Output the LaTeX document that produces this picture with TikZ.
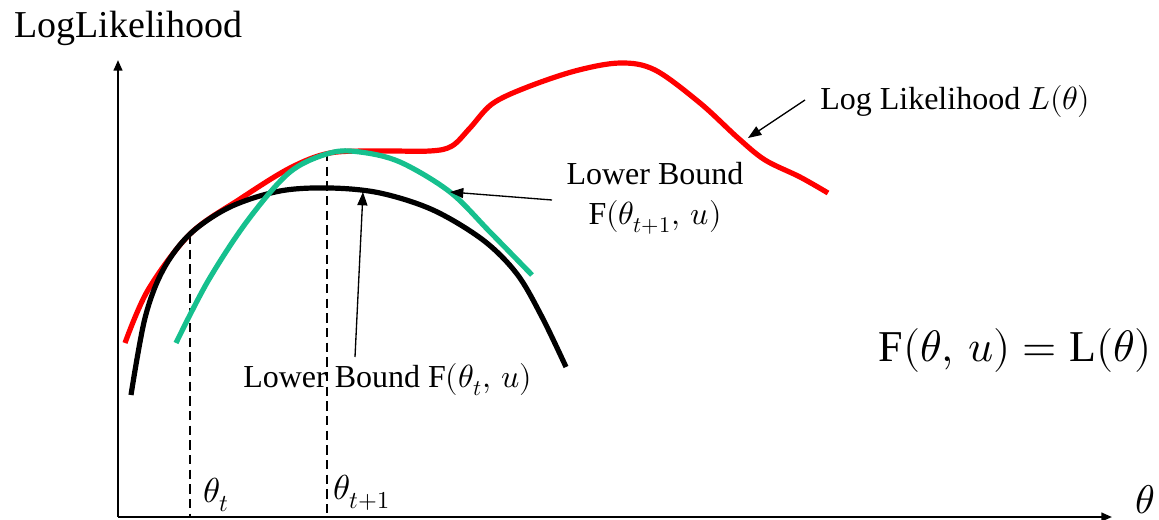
\documentclass[tikz,border=0pt]{standalone}
\usepackage{fontspec}
\usepackage{unicode-math}
\setmainfont{Liberation Serif}
\setmathfont{Latin Modern Math}
\usetikzlibrary{arrows.meta}
\definecolor{llred}{RGB}{255,0,0}
\definecolor{lbgreen}{RGB}{22,192,142}
\begin{document}
\begin{tikzpicture}[x=0.75pt,y=-0.75pt,
  axis/.style={line width=1.6pt,-{Triangle[length=8pt,width=6.5pt]}},
  curve/.style={line width=3.9pt},
  pointer/.style={line width=1pt,-{Triangle[length=10pt,width=7.5pt]}},
  guide/.style={line width=1.1pt,dash pattern=on 7pt off 4pt},
  lbl/.style={inner sep=0pt,font=\fontsize{24}{30}\selectfont}]
\useasboundingbox (0,0) rectangle (1159,520);
% axes
\coordinate (O) at (118,517);
\coordinate (Ytip) at (118,60);
\coordinate (Xtip) at (1112,517);
\draw[axis] (O) -- (Ytip);
\draw[axis] (O) -- (Xtip);
\node[inner sep=0pt,anchor=west,font=\fontsize{28.5}{32}\selectfont] (ylab) at (14,28) {LogLikelihood};
\node[inner sep=0pt,font=\fontsize{30}{34}\selectfont] (xlab) at (1145,500) {$\theta$};
% dashed guides
\coordinate (t1top) at (190,235);
\coordinate (t1bot) at (190,517);
\coordinate (t2top) at (327,152);
\coordinate (t2bot) at (327,517);
\draw[guide] (t1top) -- (t1bot);
\draw[guide] (t2top) -- (t2bot);
% red log-likelihood
\draw[curve,llred] plot[smooth,tension=0.55] coordinates {
(125,343) (148,290) (190,234) (240,199) (290,168) (330,153) (380,151) (430,151) (452,146) (470,128) (492,104) (525,88) (575,71) (620,63) (655,70) (700,103) (738,138) (765,160) (800,177) (828,193)};
% black lower bound
\draw[curve,black] plot[smooth,tension=0.55] coordinates {
(131,395) (145,318) (163,270) (190,234) (230,207) (280,191) (330,188) (380,193) (433,210) (483,240) (517,274) (542,317) (566,367)};
% green lower bound
\draw[curve,lbgreen] plot[smooth,tension=0.55] coordinates {
(176,343) (208,281) (248,220) (290,172) (330,153) (360,152) (400,162) (450,192) (490,232) (532,275)};
% labels
\node[lbl,anchor=west] (llab) at (820,102) {Log Likelihood $L(\theta)$};
\coordinate (llTail) at (805,100);
\coordinate (llHead) at (748,138);
\draw[pointer] (llTail) -- (llHead);
\node[lbl,align=center] (ub) at (655,198) {Lower Bound\\F$(\theta_{t+1},\,u)$};
\coordinate (gTail) at (552,200);
\coordinate (gHead) at (450,192);
\draw[pointer] (gTail) -- (gHead);
\node[lbl,anchor=west] (lb) at (243,380) {Lower Bound F$(\theta_t,\,u)$};
\coordinate (bTail) at (355,357);
\coordinate (bHead) at (363,192);
\draw[pointer] (bTail) -- (bHead);
\node[inner sep=0pt,anchor=west,font=\fontsize{26}{30}\selectfont] (th1) at (203,495) {$\theta_t$};
\node[inner sep=0pt,anchor=west,font=\fontsize{26}{30}\selectfont] (th2) at (333,493) {$\theta_{t+1}$};
\node[inner sep=0pt,anchor=east,font=\fontsize{33}{38}\selectfont] (eq) at (1152,350) {$\mbox{F}(\theta,\,u) = \mbox{L}(\theta)$};
\end{tikzpicture}
\end{document}
